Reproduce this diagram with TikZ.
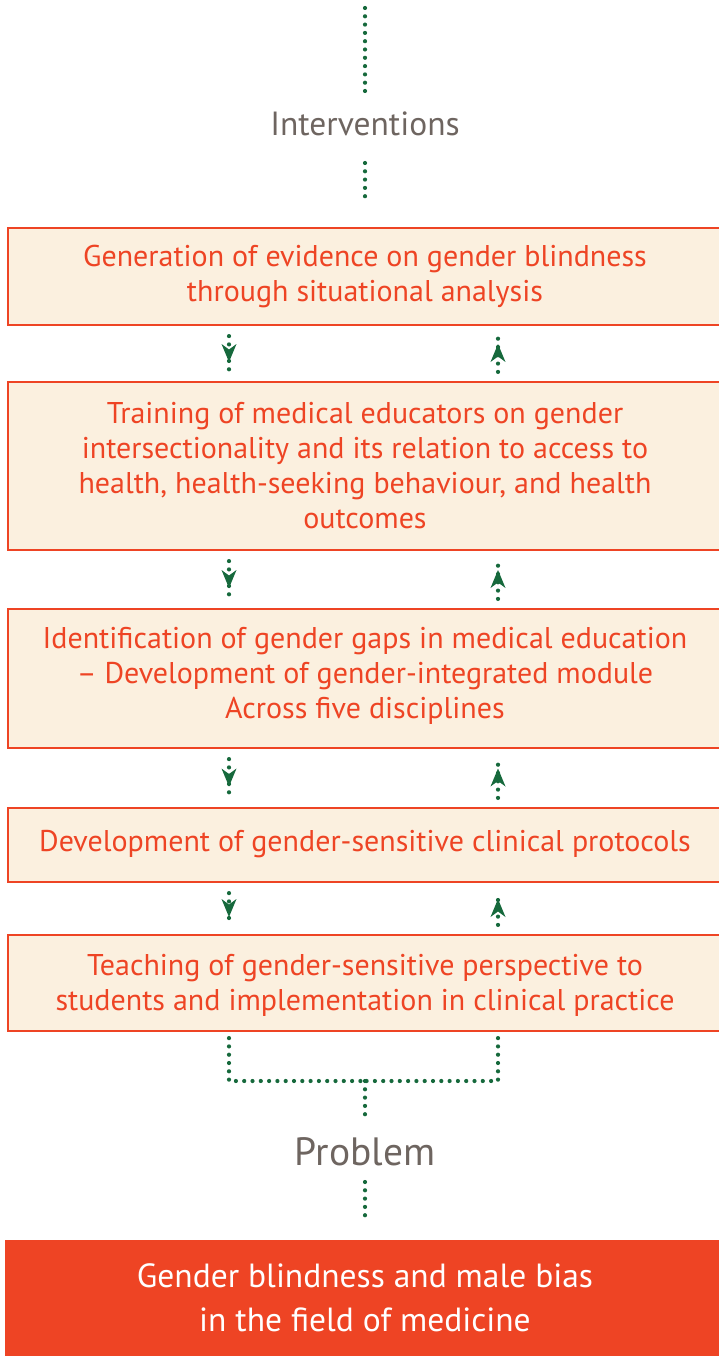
\documentclass[tikz,border=0pt]{standalone}
\usepackage{fontspec}
\setmainfont{PT Sans}
\usetikzlibrary{calc}
\definecolor{redo}{HTML}{EE4424}
\definecolor{cream}{HTML}{FBF0DF}
\definecolor{dgreen}{HTML}{16693C}
\definecolor{warmgray}{HTML}{6E6560}
\tikzset{
  box/.style={draw=redo, line width=2.2pt, fill=cream, minimum width=722pt, inner sep=0pt},
  btext/.style={text=redo, align=center, font=\fontsize{30}{35}\selectfont, inner sep=0pt},
  dotline/.style={draw=dgreen, line width=4.2pt, line cap=round, dash pattern=on 0pt off 8.3pt},
  headline/.style={text=warmgray, inner sep=0pt},
  headfill/.style={fill=dgreen},
}
\begin{document}
\begin{tikzpicture}[x=1pt,y=-1pt]
\useasboundingbox (0,0) rectangle (719,1356);
% headings
\node[headline, font=\fontsize{33.5}{36}\selectfont] (interv) at (365,124) {Interventions};
\coordinate (top1) at (365,8);
\coordinate (top2) at (365,92);
\coordinate (iv1) at (365,163);
\coordinate (iv2) at (365,203);
\draw[dotline] (top1) -- (top2);
\draw[dotline] (iv1) -- (iv2);
% boxes
\node[box, minimum height=97pt] (b1) at (369,276.5) {};
\node[btext] (t1) at (365,276.5) {Generation of evidence on gender blindness\\through situational analysis};
\node[box, minimum height=168pt] (b2) at (369,466) {};
\node[btext] (t2) at (365,466) {Training of medical educators on gender\\intersectionality and its relation to access to\\health, health-seeking behaviour, and health\\outcomes};
\node[box, minimum height=139pt] (b3) at (369,678.5) {};
\node[btext] (t3) at (365,676) {Identification of gender gaps in medical education\\– Development of gender-integrated module\\Across five disciplines};
\node[box, minimum height=74pt] (b4) at (369,845) {};
\node[btext] (t4) at (365,844) {Development of gender-sensitive clinical protocols};
\node[box, minimum height=96pt] (b5) at (369,983) {};
\node[btext] (t5) at (365,985) {Teaching of gender-sensitive perspective to\\students and implementation in clinical practice};
% arrow columns
\coordinate (L) at (229,0);
\coordinate (R) at (498,0);
\foreach \a/\b in {b1/b2,b2/b3,b3/b4,b4/b5}{
  \draw[dotline] ($(\a.south -| L)+(0,10)$) -- ($(\b.north -| L)+(0,-9)$);
  \draw[dotline] ($(\b.north -| R)+(0,-9)$) -- ($(\a.south -| R)+(0,10)$);
  \begin{scope}[shift={($(\a.south -| L)!0.5!(\b.north -| L)$)}]
    \fill[headfill] (0,8.5) -- (-7.5,-9.5) -- (0,-4) -- (7.5,-9.5) -- cycle;
  \end{scope}
  \begin{scope}[shift={($(\a.south -| R)!0.5!(\b.north -| R)$)}]
    \fill[headfill] (0,-9.5) -- (-7.5,8.5) -- (0,3) -- (7.5,8.5) -- cycle;
  \end{scope}
}
% bracket
\coordinate (bm) at (365,1081);
\draw[dotline] ($(b5.south -| L)+(0,6)$) |- (bm);
\draw[dotline] ($(b5.south -| R)+(0,6)$) |- (bm);
\node[headline, font=\fontsize{39.5}{42}\selectfont] (prob) at (365,1152) {Problem};
\coordinate (pb1) at (365,1118);
\draw[dotline] (bm) -- (pb1);
% bottom box
\node[fill=redo, minimum width=720pt, minimum height=122pt, inner sep=0pt] (pbox) at (365,1301) {};
\node[text=white, align=center, inner sep=0pt, font=\fontsize{33.5}{44}\selectfont] (ptext) at (365,1298) {Gender blindness and male bias\\in the field of medicine};
\coordinate (pd1) at (365,1182);
\draw[dotline] (pd1) -- ($(pbox.north)+(0,-18)$);
\end{tikzpicture}
\end{document}
